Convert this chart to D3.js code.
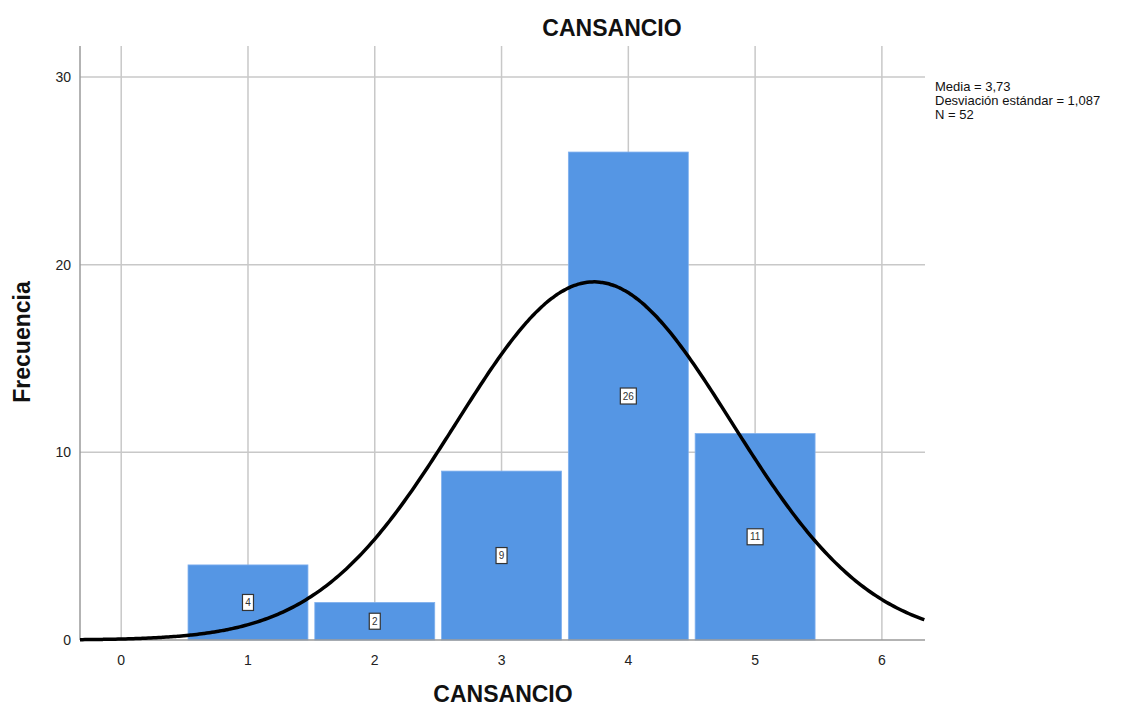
<!DOCTYPE html>
<html>
<head>
<meta charset="utf-8">
<script src="https://cdn.jsdelivr.net/npm/d3@7"></script>
<style>
  body { margin: 0; background: #fff; }
  svg { font-family: Arial, "Liberation Sans", sans-serif; }
  .grid line { stroke: #c8c8c8; stroke-width: 1.5; }
  .tick-label { font-size: 14px; fill: #222; }
</style>
</head>
<body>
<svg id="chart" width="1140" height="708"></svg>
<script>
// values
var categories = [1, 2, 3, 4, 5];
var counts = [4, 2, 9, 26, 11];
var xTicks = [0, 1, 2, 3, 4, 5, 6];
var yTicks = [0, 10, 20, 30];
var statsLines = ['Media = 3,73', 'Desviación estándar = 1,087', 'N = 52'];
var mean = 3.73, sd = 1.087, n = 52, binWidth = 1;

var svg = d3.select('#chart');

var x = d3.scaleLinear().domain([-0.325, 6.34]).range([80, 925]);
var y = d3.scaleLinear().domain([0, 31.65]).range([640, 46]);

// grid
var grid = svg.append('g').attr('class', 'grid');
grid.selectAll('line.v').data(xTicks).enter().append('line')
  .attr('class', 'v')
  .attr('x1', d => x(d)).attr('x2', d => x(d))
  .attr('y1', y.range()[1]).attr('y2', y(0));
grid.selectAll('line.h').data(yTicks.filter(d => d > 0)).enter().append('line')
  .attr('class', 'h')
  .attr('x1', x.range()[0]).attr('x2', x.range()[1])
  .attr('y1', d => y(d)).attr('y2', d => y(d));

// bars
var half = 0.473;
svg.append('g').selectAll('rect').data(categories).enter().append('rect')
  .attr('x', d => x(d - half))
  .attr('width', x(half * 2) - x(0))
  .attr('y', (d, i) => y(counts[i]))
  .attr('height', (d, i) => y(0) - y(counts[i]))
  .attr('fill', '#5596e4')
  .attr('stroke', '#7fb0ee')
  .attr('stroke-width', 0.8);

// axes lines
svg.append('line')
  .attr('x1', x.range()[0]).attr('x2', x.range()[0])
  .attr('y1', y.range()[1]).attr('y2', y(0))
  .attr('stroke', '#9a9a9a').attr('stroke-width', 1.5);
svg.append('line')
  .attr('x1', x.range()[0]).attr('x2', x.range()[1])
  .attr('y1', y(0)).attr('y2', y(0))
  .attr('stroke', '#9a9a9a').attr('stroke-width', 1.5);

// normal curve from the reported mean / sd
var curveX = d3.range(x.domain()[0], x.domain()[1] + 0.001, 0.02);
var normal = v => n * binWidth / (sd * Math.sqrt(2 * Math.PI)) * Math.exp(-0.5 * Math.pow((v - mean) / sd, 2));
svg.append('path')
  .datum(curveX)
  .attr('d', d3.line().x(d => x(d)).y(d => y(normal(d))).curve(d3.curveBasis))
  .attr('fill', 'none')
  .attr('stroke', '#000')
  .attr('stroke-width', 3.5);

// count labels
var lab = svg.append('g').selectAll('g').data(categories).enter().append('g')
  .attr('transform', (d, i) => `translate(${x(d)},${y(counts[i] / 2)})`);
lab.append('rect')
  .attr('x', (d, i) => String(counts[i]).length > 1 ? -8 : -5.5)
  .attr('width', (d, i) => String(counts[i]).length > 1 ? 16 : 11)
  .attr('y', -8).attr('height', 16)
  .attr('fill', '#fff').attr('stroke', '#333').attr('stroke-width', 1.2);
lab.append('text')
  .attr('text-anchor', 'middle').attr('dy', '0.35em')
  .attr('font-size', 10).attr('fill', '#333')
  .text((d, i) => counts[i]);

// tick labels
svg.append('g').selectAll('text').data(xTicks).enter().append('text')
  .attr('class', 'tick-label')
  .attr('x', d => x(d)).attr('y', 665)
  .attr('text-anchor', 'middle')
  .text(d => d);
svg.append('g').selectAll('text').data(yTicks).enter().append('text')
  .attr('class', 'tick-label')
  .attr('x', 71).attr('y', d => y(d)).attr('dy', '0.35em')
  .attr('text-anchor', 'end')
  .text(d => d);

// titles
svg.append('text')
  .attr('x', 612).attr('y', 36)
  .attr('text-anchor', 'middle')
  .attr('font-size', 23).attr('font-weight', 'bold').attr('fill', '#111')
  .text('CANSANCIO');
svg.append('text')
  .attr('x', 503).attr('y', 702)
  .attr('text-anchor', 'middle')
  .attr('font-size', 23).attr('font-weight', 'bold').attr('fill', '#111')
  .text('CANSANCIO');
svg.append('text')
  .attr('transform', 'translate(30,342) rotate(-90)')
  .attr('text-anchor', 'middle')
  .attr('font-size', 23).attr('font-weight', 'bold').attr('fill', '#111')
  .text('Frecuencia');

// stats
svg.append('g').selectAll('text').data(statsLines).enter().append('text')
  .attr('x', 935).attr('y', (d, i) => 91 + i * 14)
  .attr('font-size', 13).attr('fill', '#111')
  .text(d => d);
</script>
</body>
</html>
